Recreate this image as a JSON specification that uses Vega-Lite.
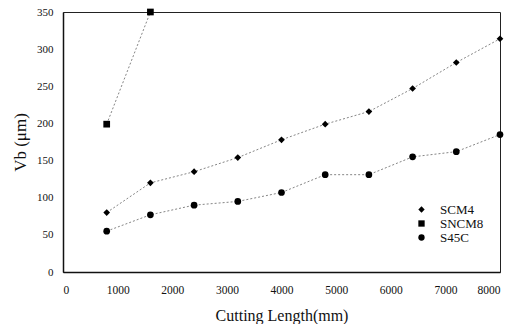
{
  "$schema": "https://vega.github.io/schema/vega-lite/v6.json",
  "autosize": "none",
  "width": 437,
  "height": 260,
  "padding": {"left": 63, "top": 12, "right": 15, "bottom": 52},
  "background": "white",
  "config": {
    "font": "Liberation Serif",
    "view": {"stroke": "#222", "strokeWidth": 1}
  },
  "data": {
    "values": [
      {"series": "SCM4", "length": 800, "vb": 80},
      {"series": "SCM4", "length": 1600, "vb": 120},
      {"series": "SCM4", "length": 2400, "vb": 135},
      {"series": "SCM4", "length": 3200, "vb": 154},
      {"series": "SCM4", "length": 4000, "vb": 178},
      {"series": "SCM4", "length": 4800, "vb": 199},
      {"series": "SCM4", "length": 5600, "vb": 216},
      {"series": "SCM4", "length": 6400, "vb": 247},
      {"series": "SCM4", "length": 7200, "vb": 282},
      {"series": "SCM4", "length": 8000, "vb": 314},
      {"series": "SNCM8", "length": 800, "vb": 199},
      {"series": "SNCM8", "length": 1600, "vb": 350},
      {"series": "S45C", "length": 800, "vb": 55},
      {"series": "S45C", "length": 1600, "vb": 77},
      {"series": "S45C", "length": 2400, "vb": 90},
      {"series": "S45C", "length": 3200, "vb": 95},
      {"series": "S45C", "length": 4000, "vb": 107},
      {"series": "S45C", "length": 4800, "vb": 131},
      {"series": "S45C", "length": 5600, "vb": 131},
      {"series": "S45C", "length": 6400, "vb": 155},
      {"series": "S45C", "length": 7200, "vb": 162},
      {"series": "S45C", "length": 8000, "vb": 185}
    ]
  },
  "encoding": {
    "x": {
      "field": "length", "type": "quantitative",
      "scale": {"domain": [0, 8000], "nice": false},
      "axis": {
        "title": "Cutting Length(mm)", "values": [0,1000,2000,3000,4000,5000,6000,7000,8000],
        "format": "d",
        "grid": false, "ticks": false, "labelPadding": 12, "labelFontSize": 11.5,
        "labelColor": "#111", "titleFontSize": 16, "titleFontWeight": "normal",
        "titleColor": "#111", "titlePadding": 12, "domainColor": "#111", "domainWidth": 1.5
      }
    },
    "y": {
      "field": "vb", "type": "quantitative",
      "scale": {"domain": [0, 350], "nice": false},
      "axis": {
        "title": "Vb (μm)", "values": [0,50,100,150,200,250,300,350],
        "grid": false, "ticks": false, "labelPadding": 10, "labelFontSize": 11,
        "labelColor": "#111", "titleFontSize": 17, "titleFontWeight": "normal",
        "titleColor": "#111", "titlePadding": 7, "domainColor": "#111", "domainWidth": 1.5
      }
    }
  },
  "layer": [
    {
      "mark": {"type": "line", "color": "#777", "strokeWidth": 0.9, "strokeDash": [2, 2]},
      "encoding": {"detail": {"field": "series"}}
    },
    {
      "mark": {"type": "point", "filled": true, "color": "#000", "size": 45, "opacity": 1},
      "encoding": {
        "shape": {
          "field": "series", "type": "nominal",
          "scale": {"domain": ["SCM4", "SNCM8", "S45C"], "range": ["diamond", "square", "circle"]},
          "legend": {
            "title": null, "orient": "none", "legendX": 352, "legendY": 191,
            "labelFontSize": 13, "labelColor": "#111", "rowPadding": 0, "symbolSize": 40,
            "symbolFillColor": "#000", "symbolStrokeColor": "#000", "labelOffset": 12
          }
        }
      }
    }
  ]
}
